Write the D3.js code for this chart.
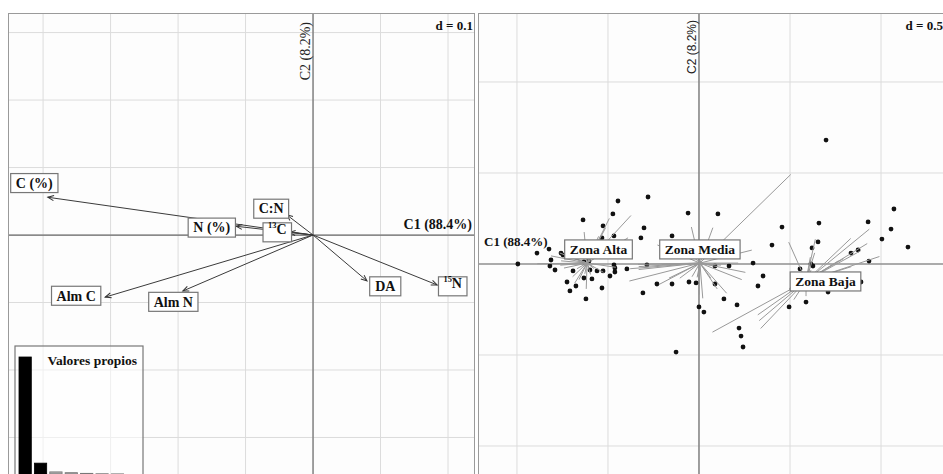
<!DOCTYPE html>
<html>
<head>
<meta charset="utf-8">
<script src="https://cdn.jsdelivr.net/npm/d3@7"></script>
<style>
  body { margin: 0; background: #fff; }
  svg { display: block; }
  .lab { font-family: "Liberation Serif", "Times New Roman", serif; font-weight: bold; fill: #111; }
</style>
</head>
<body>
<div id="graphic"></div>
<script>
// ---- left panel: variable arrows (coordinates in C1/C2 units) ----
const varNames = ['C (%)', 'N (%)', '13C', 'C:N', 'Alm C', 'Alm N', 'DA', '15N'];
const varX = [-0.393, -0.114, -0.035, -0.039, -0.308, -0.193, 0.080, 0.184];
const varY = [0.056, 0.013, 0.004, 0.030, -0.092, -0.083, -0.068, -0.074];
const varLabX = [-0.413, -0.150, -0.053, -0.062, -0.351, -0.207, 0.107, 0.207];
const varLabY = [0.077, 0.011, 0.004, 0.039, -0.090, -0.099, -0.076, -0.076];

// eigenvalues (% of inertia)
const eigen = [88.4, 8.2, 1.6, 1.0, 0.5, 0.2, 0.1, 0.0];

// ---- right panel: sample scores and zones ----
const zones = ['Zona Alta', 'Zona Media', 'Zona Baja'];
const zoneCX = [-0.615, 0.005, 0.588];
const zoneCY = [0.005, 0.005, -0.093];
const zoneLabX = [-0.552, 0.005, 0.695];
const zoneLabY = [0.080, 0.080, -0.096];

const ptX = [
  -0.995, -0.890, -0.824, -0.758, -0.747, -0.813, -0.819, -0.791, -0.692, -0.632,
  -0.604, -0.599, -0.560, -0.489, -0.632, -0.588, -0.725, -0.676, -0.709, -0.621,
  -0.637, -0.527, -0.473, -0.445, -0.467, -0.533, -0.396, -0.280, -0.302,
  -0.527, -0.467, -0.462, -0.462, -0.533, -0.060, 0.104, -0.319, -0.148, -0.286,
  0.088, 0.165, 0.297, -0.231, -0.148, -0.055, -0.016, 0.088, -0.308, 0.137,
  0.209, 0.000, 0.027, 0.698, 0.401, 0.352, 0.324,
  0.456, 0.659, 0.929, 1.071, 1.055, 0.654, 0.621, 1.005, 1.148, 0.835,
  0.874, 0.615, 0.626, 0.934, 0.555, 0.890, 0.511, 0.709, 0.588, 0.495,
  0.220, 0.231, 0.242, -0.126
];
const ptY = [
  0.000, 0.060, 0.082, 0.060, 0.049, 0.022, -0.011, -0.033, -0.038, 0.011,
  0.016, -0.033, -0.038, -0.066, -0.077, -0.082, -0.099, -0.121, -0.148, -0.192,
  0.242, 0.209, 0.275, 0.346, 0.154, 0.143, -0.027, 0.368, 0.198,
  -0.038, -0.005, -0.022, -0.044, -0.132, 0.280, 0.275, 0.143, 0.154, -0.005,
  -0.011, -0.011, 0.005, -0.110, -0.110, -0.099, -0.104, -0.110, -0.159, -0.192,
  -0.225, -0.236, -0.264, 0.681, 0.104, -0.066, -0.121,
  0.203, 0.225, 0.231, 0.302, 0.192, 0.121, 0.088, 0.137, 0.093, 0.060,
  0.077, 0.000, -0.011, 0.016, -0.027, -0.099, -0.137, -0.154, -0.209, -0.236,
  -0.352, -0.396, -0.456, -0.484
];
// zone index of each sample (0 alta, 1 media, 2 baja)
const ptZone = [
  0, 0, 0, 0, 0, 0, 0, 0, 0, 0,
  0, 0, 0, 0, 0, 0, 0, 0, 0, 0,
  0, 0, 0, 0, 0, 0, 0, 0, 0,
  1, 1, 1, 1, 1, 1, 1, 1, 1, 1,
  1, 1, 1, 1, 1, 1, 1, 1, 1, 1,
  1, 1, 1, 1, 1, 1, 1,
  2, 2, 2, 2, 2, 2, 2, 2, 2, 2,
  2, 2, 2, 2, 2, 2, 2, 2, 2, 2,
  2, 2, 2, 2
];

const W = 943, H = 474;
const serif = '"Liberation Serif", "Times New Roman", serif';
const sans = '"Liberation Sans", Arial, sans-serif';

const svg = d3.select('#graphic').append('svg')
  .attr('width', W).attr('height', H);

svg.append('defs').append('marker')
  .attr('id', 'head')
  .attr('markerUnits', 'userSpaceOnUse')
  .attr('viewBox', '-8 -4 10 8')
  .attr('refX', 0).attr('refY', 0)
  .attr('markerWidth', 10).attr('markerHeight', 8)
  .attr('orient', 'auto')
  .append('path')
  .attr('d', 'M-6,-2.5L0,0L-6,2.5')
  .attr('fill', 'none').attr('stroke', '#333').attr('stroke-width', 1);

// draws frame, grid and the two axes of one panel, returns clipped group
function panel(id, x, y, step) {
  const [x0, x1] = x.range();
  const [y0, y1] = y.range();
  svg.append('clipPath').attr('id', id)
    .append('rect').attr('x', x0).attr('y', y1).attr('width', x1 - x0).attr('height', y0 - y1);
  const g = svg.append('g').attr('clip-path', 'url(#' + id + ')');
  g.append('rect').attr('x', x0).attr('y', y1).attr('width', x1 - x0).attr('height', y0 - y1)
    .attr('fill', '#fdfdfd');
  const xt = d3.range(Math.ceil(x.domain()[0] / step), Math.floor(x.domain()[1] / step) + 1).map(i => i * step);
  const yt = d3.range(Math.ceil(y.domain()[0] / step), Math.floor(y.domain()[1] / step) + 1).map(i => i * step);
  g.selectAll('.vg').data(xt).join('line')
    .attr('x1', d => x(d)).attr('x2', d => x(d)).attr('y1', y1).attr('y2', y0)
    .attr('stroke', '#dcdcdc').attr('stroke-width', 1);
  g.selectAll('.hg').data(yt).join('line')
    .attr('y1', d => y(d)).attr('y2', d => y(d)).attr('x1', x0).attr('x2', x1)
    .attr('stroke', '#dcdcdc').attr('stroke-width', 1);
  g.append('line').attr('x1', x(0)).attr('x2', x(0)).attr('y1', y1).attr('y2', y0)
    .attr('stroke', '#6a6a6a').attr('stroke-width', 1.2);
  g.append('line').attr('y1', y(0)).attr('y2', y(0)).attr('x1', x0).attr('x2', x1)
    .attr('stroke', '#6a6a6a').attr('stroke-width', 1.2);
  svg.append('rect').attr('x', x0 + 0.5).attr('y', y1 + 0.5)
    .attr('width', x1 - x0 - 1).attr('height', y0 - y1)
    .attr('fill', 'none').attr('stroke', '#9a9a9a').attr('stroke-width', 1);
  return g;
}

// label with box; txt may contain a superscript prefix
function boxLabel(g, cx, cy, txt, size) {
  const t = g.append('text').attr('class', 'lab')
    .attr('x', cx).attr('y', cy).attr('dy', '0.34em')
    .attr('text-anchor', 'middle').style('font-size', size + 'px');
  const m = txt.match(/^(\d+)(\D+)$/);
  if (m) {
    t.append('tspan').text(m[1]).style('font-size', (size * 0.6) + 'px').attr('dy', '-0.5em');
    t.append('tspan').text(m[2]).attr('dy', '0.45em');
  } else {
    t.text(txt);
  }
  const b = t.node().getBBox();
  g.insert('rect', () => t.node())
    .attr('x', cx - b.width / 2 - 5).attr('y', cy - 9.5)
    .attr('width', b.width + 10).attr('height', 19)
    .attr('fill', '#fff').attr('stroke', '#777').attr('stroke-width', 1.2);
}

// ---------- left panel ----------
const xL = d3.scaleLinear().domain([-0.452, 0.240]).range([8, 475]);
const yL = d3.scaleLinear().domain([-0.363, 0.329]).range([480, 13]);
const gL = panel('clipL', xL, yL, 0.1);

gL.append('text').attr('transform', `translate(${xL(0) - 3},22) rotate(-90)`)
  .attr('text-anchor', 'end').style('font-family', serif).style('font-size', '14px')
  .attr('fill', '#222').text('C2 (8.2%)');
gL.append('text').attr('class', 'lab').attr('x', 472).attr('y', 229)
  .attr('text-anchor', 'end').style('font-size', '14px').text('C1 (88.4%)');
gL.append('text').attr('class', 'lab').attr('x', 473).attr('y', 30)
  .attr('text-anchor', 'end').style('font-size', '13px').text('d = 0.1');

gL.selectAll('.arrow').data(varNames).join('line')
  .attr('x1', xL(0)).attr('y1', yL(0))
  .attr('x2', (d, i) => xL(varX[i])).attr('y2', (d, i) => yL(varY[i]))
  .attr('stroke', '#3a3a3a').attr('stroke-width', 1)
  .attr('marker-end', 'url(#head)');

varNames.forEach((n, i) => boxLabel(gL, xL(varLabX[i]), yL(varLabY[i]), n, 14));

// eigenvalue inset
const ix0 = 15, ix1 = 143, iy0 = 346, iy1 = 474;
const xb = d3.scaleBand().domain(d3.range(eigen.length)).range([19, 139]).paddingInner(0.2);
const yb = d3.scaleLinear().domain([0, 88.4]).range([iy1, 357]);
gL.append('rect').attr('x', ix0).attr('y', iy0).attr('width', ix1 - ix0).attr('height', 140)
  .attr('fill', '#fff').attr('fill-opacity', 0.55).attr('stroke', '#777').attr('stroke-width', 1.2);
gL.selectAll('.bar').data(eigen).join('rect')
  .attr('x', (d, i) => xb(i)).attr('width', xb.bandwidth())
  .attr('y', d => yb(d)).attr('height', d => iy1 - yb(d))
  .attr('fill', (d, i) => i < 2 ? '#000' : '#aaa')
  .attr('stroke', (d, i) => i < 2 ? '#000' : '#777').attr('stroke-width', 0.8);
gL.append('text').attr('class', 'lab').attr('x', 137).attr('y', 365)
  .attr('text-anchor', 'end').style('font-size', '13.5px').text('Valores propios');

// ---------- right panel ----------
const xR = d3.scaleLinear().domain([-1.214, 1.357]).range([478, 946]);
const yR = d3.scaleLinear().domain([-1.2, 1.379]).range([482.4, 13]);
const gR = panel('clipR', xR, yR, 0.5);

gR.append('text').attr('transform', `translate(${xR(0) - 3},20) rotate(-90)`)
  .attr('text-anchor', 'end').style('font-family', sans).style('font-size', '12px')
  .attr('fill', '#222').text('C2 (8.2%)');
gR.append('text').attr('class', 'lab').attr('x', 484).attr('y', 246)
  .style('font-size', '13px').text('C1 (88.4%)');
gR.append('text').attr('class', 'lab').attr('x', 943).attr('y', 30)
  .attr('text-anchor', 'end').style('font-size', '13px').text('d = 0.5');

const cstar = 0.72;
const pts = ptX.map((v, i) => ({ x: v, y: ptY[i], z: ptZone[i] }));

gR.selectAll('.dot').data(pts).join('circle')
  .attr('cx', d => xR(d.x)).attr('cy', d => yR(d.y)).attr('r', 2.4)
  .attr('fill', '#111');

gR.selectAll('.star').data(pts).join('line')
  .attr('x1', d => xR(zoneCX[d.z])).attr('y1', d => yR(zoneCY[d.z]))
  .attr('x2', d => xR(zoneCX[d.z] + cstar * (d.x - zoneCX[d.z])))
  .attr('y2', d => yR(zoneCY[d.z] + cstar * (d.y - zoneCY[d.z])))
  .attr('stroke', '#999').attr('stroke-width', 1);

zones.forEach((n, i) => boxLabel(gR, xR(zoneLabX[i]), yR(zoneLabY[i]), n, 13.5));
</script>
</body>
</html>
